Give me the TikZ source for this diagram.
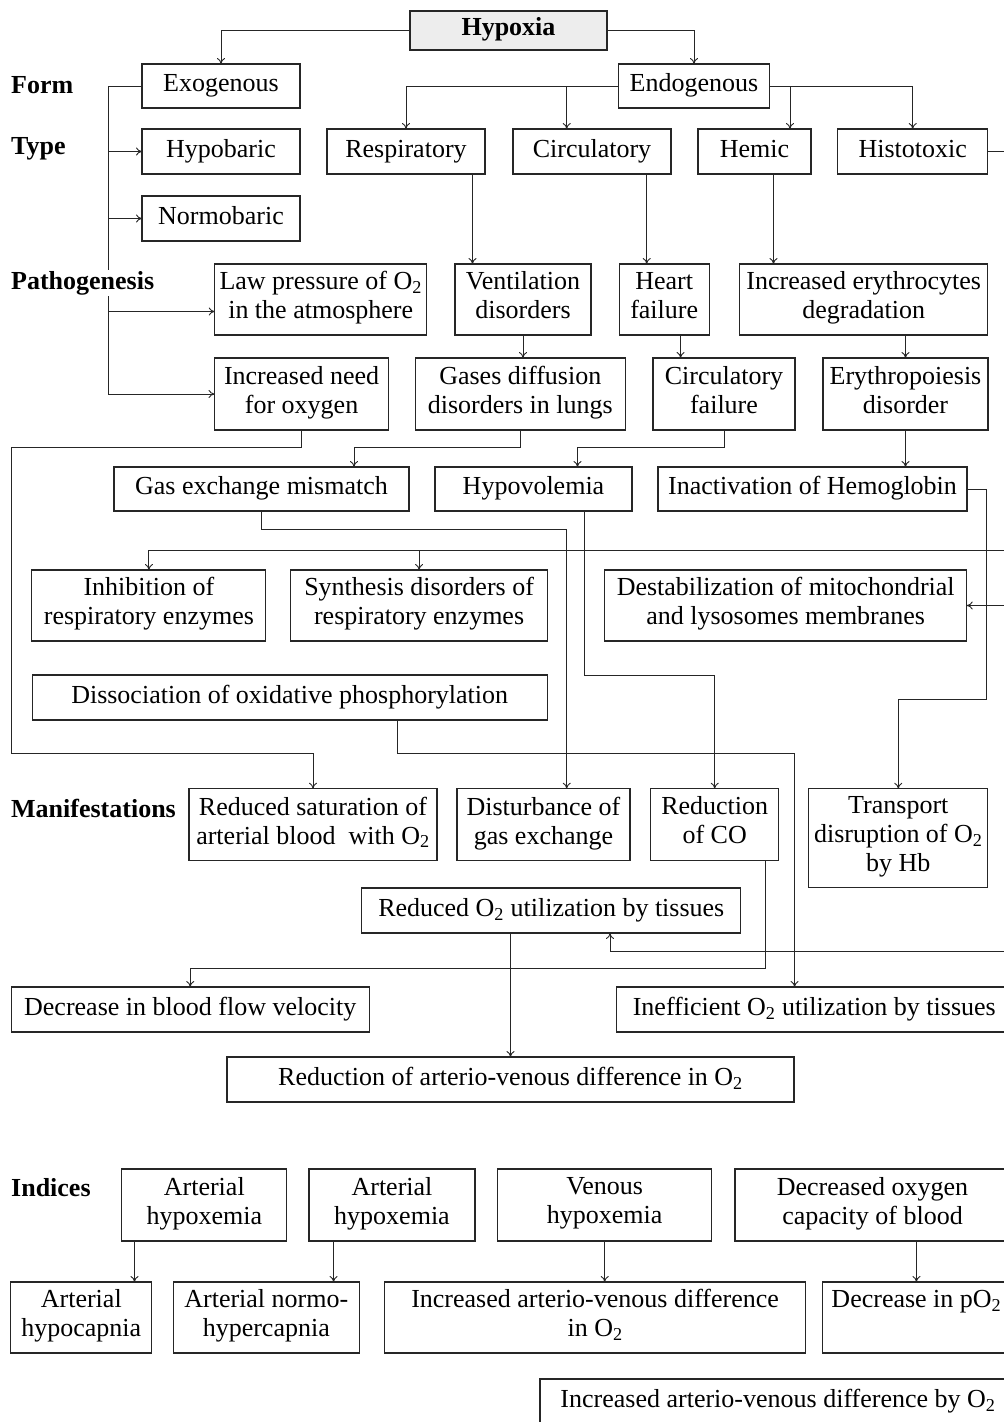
\documentclass[tikz,border=0pt]{standalone}
\usepackage{fontspec}
\setmainfont{Liberation Serif}
\usetikzlibrary{arrows.meta}
\begin{document}
\begin{tikzpicture}[x=1pt, y=-1pt,
    box/.style={draw=black!85, line width=1.1pt, align=center, inner sep=2pt, outer sep=0pt,
        font=\fontsize{26}{29}\selectfont, execute at begin node=\strut, execute at end node=\strut},
    sz/.style 2 args={minimum width=#1, minimum height=#2},
    lbl/.style={anchor=west, fill=white, inner sep=1pt, font=\fontsize{26}{29}\selectfont\bfseries},
    arr/.style={-{To[length=6pt,width=8pt]}, line width=0.9pt, draw=black!85},
    ln/.style={line width=0.9pt, draw=black!85}]
    \clip (0,0) rectangle (1004,1422);
    % forms and types
    \node[box, sz={197}{39}, fill=black!7, line width=2pt, font=\fontsize{26}{29}\selectfont\bfseries] (Hyp) at (508.5,30) {Hypoxia};
    \node[box, sz={158}{44}] (Exo) at (221,86) {Exogenous};
    \node[box, sz={151}{44}] (Endo) at (694,86) {Endogenous};
    \node[box, sz={158}{45}] (Hypob) at (221,151.5) {Hypobaric};
    \node[box, sz={158}{45}] (Normob) at (221,218.5) {Normobaric};
    \node[box, sz={158}{45}] (Resp) at (406,151.5) {Respiratory};
    \node[box, sz={158}{45}] (Circ) at (592,151.5) {Circulatory};
    \node[box, sz={113}{45}] (Hemic) at (754.5,151.5) {Hemic};
    \node[box, sz={150}{45}] (Histo) at (912.7,151.5) {Histotoxic};
    % pathogenesis
    \node[box, sz={212}{71}] (LawP) at (320.7,299.5) {Law pressure of O\textsubscript{2}\\in the atmosphere};
    \node[box, sz={136}{71}] (Vent) at (523,299.5) {Ventilation\\disorders};
    \node[box, sz={90}{71}] (Heart) at (664.2,299.5) {Heart\\failure};
    \node[box, sz={248}{71}] (IncEry) at (863.7,299.5) {Increased erythrocytes\\degradation};
    \node[box, sz={174}{72}] (IncNeed) at (301.6,394) {Increased need\\for oxygen};
    \node[box, sz={210}{72}] (GasDiff) at (520.3,394) {Gases diffusion\\disorders in lungs};
    \node[box, sz={142}{72}] (CircF) at (724,394) {Circulatory\\failure};
    \node[box, sz={165}{72}] (Ery) at (905.5,394) {Erythropoiesis\\disorder};
    \node[box, sz={295}{44}] (GasMis) at (261.5,489) {Gas exchange mismatch};
    \node[box, sz={197}{44}] (Hypovol) at (533.5,489) {Hypovolemia};
    \node[box, sz={309}{44}] (Inact) at (812.5,489) {Inactivation of Hemoglobin};
    \node[box, sz={234}{71}] (Inhib) at (148.9,605.5) {Inhibition of\\respiratory enzymes};
    \node[box, sz={257}{71}] (Synth) at (419.1,605.5) {Synthesis disorders of\\respiratory enzymes};
    \node[box, sz={362}{71}] (Destab) at (785.7,605.5) {Destabilization of mitochondrial\\and lysosomes membranes};
    \node[box, sz={515}{45}] (Dissoc) at (289.7,697.5) {Dissociation of oxidative phosphorylation};
    % manifestations
    \node[box, sz={248}{72}] (RedSat) at (313,824.7) {Reduced saturation of\\arterial blood\ \ with O\textsubscript{2}};
    \node[box, sz={173}{72}] (Disturb) at (543.5,824.7) {Disturbance of\\gas exchange};
    \node[box, sz={128}{72}] (RedCO) at (714.7,824.7) {Reduction\\of CO};
    \node[box, sz={179}{99}] (Transp) at (898.3,838.3) {Transport\\disruption of O\textsubscript{2}\\by Hb};
    \node[box, sz={379}{45}] (RedUtil) at (551.3,910.5) {Reduced O\textsubscript{2} utilization by tissues};
    \node[box, sz={358}{45}] (DecFlow) at (190.2,1009.5) {Decrease in blood flow velocity};
    \node[box, sz={396}{45}] (Ineff) at (814.3,1009.5) {Inefficient O\textsubscript{2} utilization by tissues};
    \node[box, sz={567}{45}] (RedAV) at (510.5,1079.5) {Reduction of arterio-venous difference in O\textsubscript{2}};
    % indices
    \node[box, sz={165}{72}] (Art1) at (204.3,1205) {Arterial\\hypoxemia};
    \node[box, sz={166}{72}] (Art2) at (392,1205) {Arterial\\hypoxemia};
    \node[box, sz={214}{72}] (Ven) at (604.7,1205) {Venous\\hypoxemia};
    \node[box, sz={275}{72}] (DecOx) at (872.5,1205) {Decreased oxygen\\capacity of blood};
    \node[box, sz={141}{71}] (HypoCap) at (81.3,1317.5) {Arterial\\hypocapnia};
    \node[box, sz={186}{71}] (NormoHyp) at (266.3,1317.5) {Arterial normo-\\hypercapnia};
    \node[box, sz={421}{71}] (IncAV) at (595.1,1317.5) {Increased arterio-venous difference\\in O\textsubscript{2}};
    \node[box, sz={188}{71}] (DecPO) at (916.4,1317.5) {Decrease in pO\textsubscript{2}\\\strut};
    \node[box, sz={476}{46}] (IncAVO) at (778,1402) {Increased arterio-venous difference by O\textsubscript{2}};
    % ends running off the right edge
    \coordinate (OffA) at (1012,151.5);
    \coordinate (OffB) at (1012,550.7);
    \coordinate (OffC) at (1012,605.5);
    \coordinate (OffD) at (1012,951.7);
    \coordinate (Brk) at ([xshift=-34]Exo.west);
    \coordinate (LawIn) at ([yshift=-12]LawP.west);
    % connectors
    \draw[arr] (Hyp.west) -| (Exo.north);
    \draw[arr] (Hyp.east) -| (Endo.north);
    \draw[arr] (Exo.west) -- (Brk) |- (IncNeed.west);
    \draw[arr] (Brk |- Hypob.west) -- (Hypob.west);
    \draw[arr] (Brk |- Normob.west) -- (Normob.west);
    \draw[arr] (Brk |- LawIn) -- (LawIn);
    \draw[arr] (Endo.west) -| (Resp.north);
    \draw[arr] ([xshift=-25.3]Circ.north |- Endo.west) -- ([xshift=-25.3]Circ.north);
    \draw[arr] (Endo.east) -| (Histo.north);
    \draw[arr] ([xshift=35.5]Hemic.north |- Endo.east) -- ([xshift=35.5]Hemic.north);
    \draw[ln] (Histo.east) -- (OffA);
    \draw[arr] ([xshift=-12.5]Resp.south east) -- ([xshift=-12.5]Resp.south east |- Vent.north);
    \draw[arr] ([xshift=-24.3]Circ.south east) -- ([xshift=-24.3]Circ.south east |- Heart.north);
    \draw[arr] ([xshift=19]Hemic.south) -- ([xshift=19]Hemic.south |- IncEry.north);
    \draw[arr] (Vent.south) -- (Vent.south |- GasDiff.north);
    \draw[arr] ([xshift=16.4]Heart.south) -- ([xshift=16.4]Heart.south |- CircF.north);
    \draw[arr] (IncEry.south -| Ery.north) -- (Ery.north);
    \draw[arr] (Ery.south) -- (Ery.south |- Inact.north);
    \draw[arr] (GasDiff.south) -- ++(0,17) -| ([xshift=92.5]GasMis.north);
    \draw[arr] (CircF.south) -- ++(0,17) -| ([xshift=44]Hypovol.north);
    \draw[arr] (IncNeed.south) -- ++(0,17) -| ++(-290,306) -| (RedSat.north);
    \draw[arr] (GasMis.south) -- ++(0,18) -| ([xshift=23.2]Disturb.north);
    \draw[arr] ([xshift=51.1]Hypovol.south) -- ++(0,164) -| (RedCO.north);
    \draw[arr] ([xshift=107.3]Dissoc.south) -- ++(0,33.3) -| ([xshift=-19.7]Ineff.north);
    \draw[arr] (Inact.east) -| ++(19,210.3) -| (Transp.north);
    \draw[arr] (OffB) -| (Inhib.north);
    \draw[arr] (OffB -| Synth.north) -- (Synth.north);
    \draw[arr] (OffC) -- (Destab.east);
    \draw[arr] ([xshift=51.1]RedCO.south) -- ++(0,107.3) -| (DecFlow.north);
    \draw[arr] (OffD) -| ([xshift=58.7]RedUtil.south);
    \draw[arr] (RedUtil.south -| RedAV.north) -- (RedAV.north);
    \draw[arr] ([xshift=-69.8]Art1.south) -- ([xshift=-69.8]Art1.south |- HypoCap.north);
    \draw[arr] ([xshift=-58.4]Art2.south) -- ([xshift=-58.4]Art2.south |- NormoHyp.north);
    \draw[arr] (Ven.south) -- (Ven.south |- IncAV.north);
    \draw[arr] (DecOx.south -| DecPO.north) -- (DecPO.north);
    % row labels
    \node[lbl] (Form) at (10,85) {Form};
    \node[lbl] (Type) at (10,149) {Type};
    \node[lbl] (Path) at (10,283) {Pathogenesis};
    \node[lbl] (Manif) at (10,808) {Manifestations};
    \node[lbl] (Ind) at (10,1188) {Indices};
\end{tikzpicture}
\end{document}
